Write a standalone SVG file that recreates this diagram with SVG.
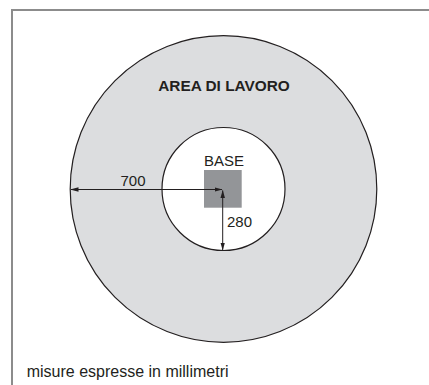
<svg xmlns="http://www.w3.org/2000/svg" width="429" height="385" viewBox="0 0 429 385">
<style>
.t{font-family:"Liberation Sans",Arial,Helvetica,sans-serif;fill:#231f20}
.dim{stroke:#231f20;stroke-width:1;fill:none}
</style>
<defs>
<marker id="ah" markerWidth="8" markerHeight="5" refX="7.5" refY="2.25" orient="auto-start-reverse" markerUnits="userSpaceOnUse">
<path d="M0,0 L8,2.25 L0,4.5 Z" fill="#231f20"/>
</marker>
</defs>
<rect width="429" height="385" fill="#ffffff"/>
<path d="M12,385 V10 H429" fill="none" stroke="#8c8c8c" stroke-width="2"/>
<g id="area">
<circle cx="223.5" cy="189" r="153.3" fill="#dcdddf" stroke="#231f20" stroke-width="1.2"/>
<text class="t" x="224" y="90.7" font-size="15.4" font-weight="bold" text-anchor="middle">AREA DI LAVORO</text>
</g>
<g id="inner">
<circle cx="223.5" cy="189" r="61.5" fill="#ffffff" stroke="#231f20" stroke-width="1.2"/>
</g>
<g id="base">
<rect x="204" y="170" width="37.7" height="37.7" fill="#939598"/>
<text class="t" x="224" y="165.7" font-size="15" text-anchor="middle">BASE</text>
</g>
<g id="connectors">
<line class="dim" x1="71" y1="189.5" x2="222" y2="189.5" marker-start="url(#ah)" marker-end="url(#ah)"/>
<line class="dim" x1="222.7" y1="190.5" x2="222.7" y2="250" marker-start="url(#ah)" marker-end="url(#ah)"/>
</g>
<text class="t" x="133" y="185.7" font-size="15" text-anchor="middle">700</text>
<text class="t" x="227" y="226.7" font-size="15">280</text>
<text class="t" x="26.7" y="377.3" font-size="16">misure espresse in millimetri</text>
</svg>
